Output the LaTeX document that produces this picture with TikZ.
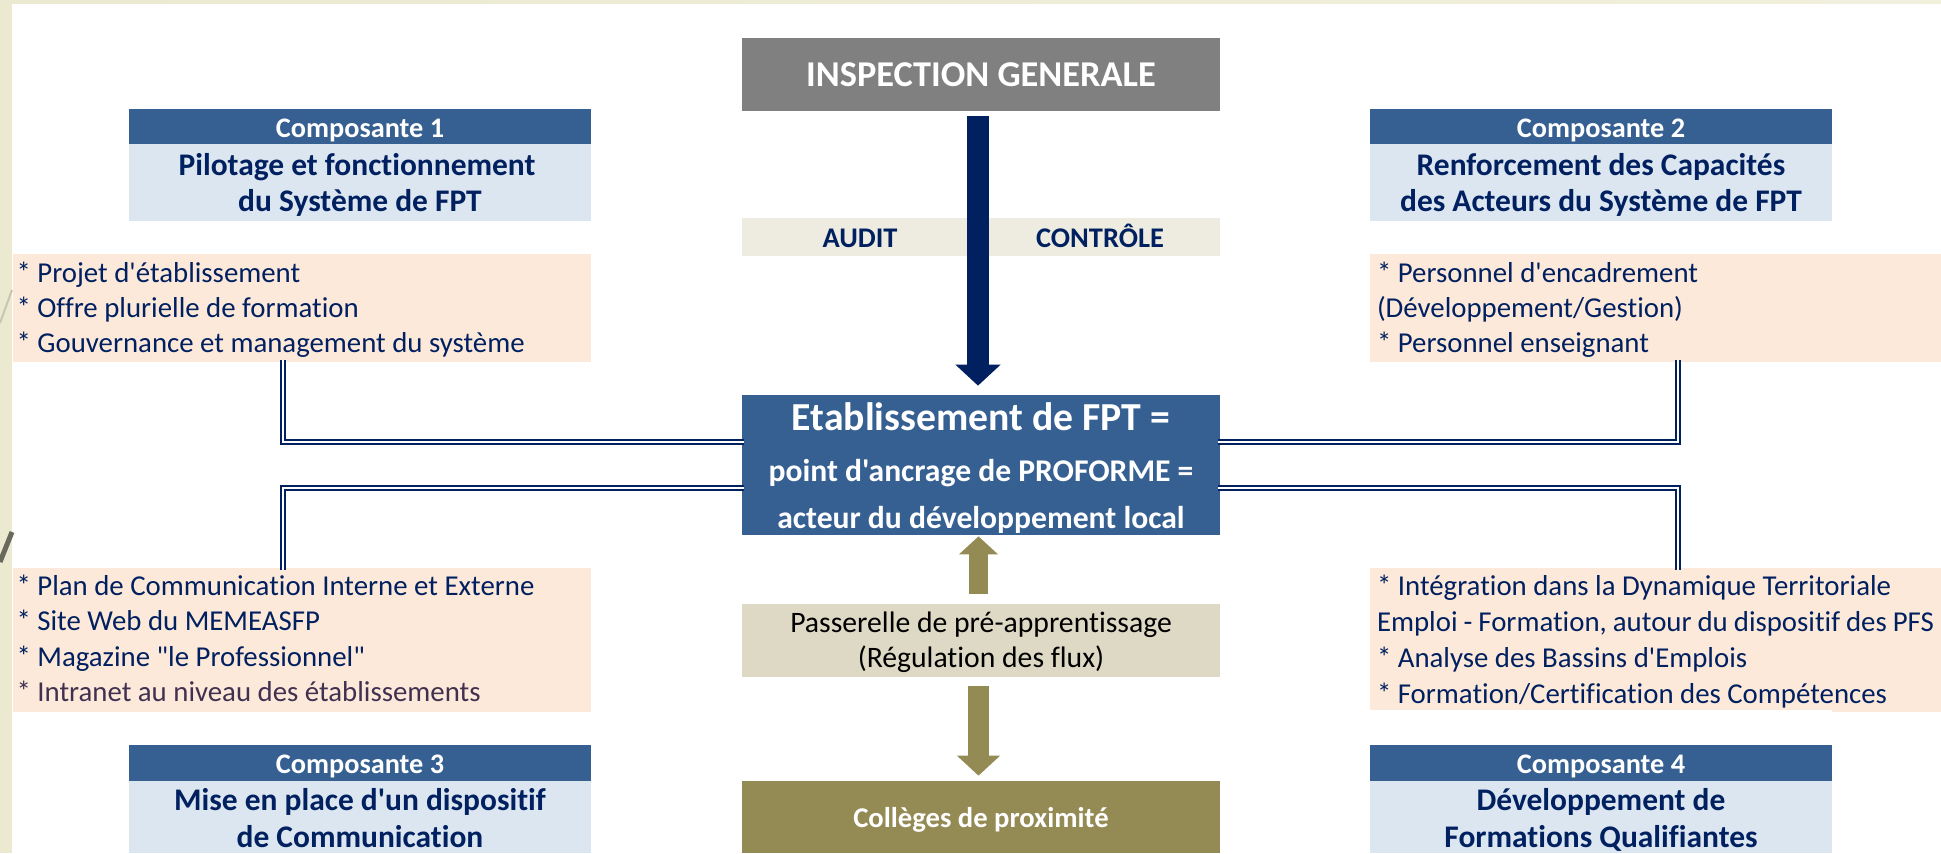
\documentclass[tikz,border=0pt]{standalone}
\usepackage{fontspec}
\setmainfont{Carlito}[Ligatures={TeXOff,CommonOff}]
\usetikzlibrary{arrows.meta}
\definecolor{navy}{HTML}{002060}
\definecolor{headblue}{HTML}{366092}
\definecolor{lightblue}{HTML}{DCE6F1}
\definecolor{peach}{HTML}{FDE9D9}
\definecolor{auditbg}{HTML}{EEECE1}
\definecolor{passbg}{HTML}{DDD9C4}
\definecolor{olive}{HTML}{948A54}
\definecolor{framebg}{HTML}{EBE9CF}
\definecolor{intranet}{HTML}{403151}
\newcommand{\puce}{* }
\tikzset{
	boxsize/.style 2 args={minimum width=#1*0.02cm,minimum height=#2*0.02cm,inner sep=0pt},
	firstbase/.style 2 args={text height=(#1/2+#2)*0.02cm,text depth=(#1/2-#2)*0.02cm},
	comphead/.style={boxsize={462}{35},firstbase={35}{11.3},fill=headblue,text=white,font=\fontsize{16.1}{19}\selectfont\bfseries},
	comptitle/.style={boxsize={462}{77},firstbase={77}{-7.5},fill=lightblue,text=navy,align=flush center,text width=9.24cm,font=\fontsize{17.9}{20.8}\selectfont\bfseries},
	actions/.style 2 args={boxsize={#1}{#2},fill=peach,text=navy,align=flush left,text width=(#1-14)*0.02cm,font=\fontsize{16.4}{20.1}\selectfont},
	bar/.style={boxsize={478}{73},align=flush center,text width=9.56cm},
	link/.style={draw=navy,line width=0.04cm,double=white,double distance=0.04cm,shorten <=-0.04cm,shorten >=-0.04cm},
	navyarrow/.style={draw=navy,line width=0.45cm,-{Triangle[length=0.42cm,width=0.88cm]}},
	olivearrow/.style n args={3}{draw=olive,line width=#1,-{Triangle[length=#2,width=#3]}},
}
\begin{document}
\begin{tikzpicture}[x=0.02cm,y=-0.02cm]
	\useasboundingbox (0,0) rectangle (1941,853);
	% frame behind the slide
	\fill[framebg] (0,0) rectangle (12,853);
	\shade[left color=framebg,middle color=framebg!20,right color=framebg!70] (12,0) rectangle (1941,3);
	\draw[framebg!85!black,line width=0.04cm] (0,323) -- (12,290);
	\draw[black!55!framebg,line width=0.1cm] (0,562) -- (12,532);

	\node[comphead] (headA) at (360, 126.5) {Composante 1};
	\node[comptitle] (titleA) at (360, 182.5) {Pilotage et fonctionnement\kern0.12cm\\du Système de FPT};
	\node[comphead] (headB) at (1601, 126.5) {Composante 2};
	\node[comptitle] (titleB) at (1601, 182.5) {Renforcement des Capacités\\des Acteurs du Système de FPT};
	\node[comphead,minimum height=0.72cm,firstbase={36}{10.8}] (headC) at (360, 763) {Composante 3};
	\node[comptitle,minimum height=1.44cm,firstbase={72}{-6.3}] (titleC) at (360, 817) {Mise en place d'un dispositif\\de Communication};
	\node[comphead,minimum height=0.72cm,firstbase={36}{10.8}] (headD) at (1601, 763) {Composante 4};
	\node[comptitle,minimum height=1.44cm,firstbase={72}{-6.3}] (titleD) at (1601, 817) {Développement de\\Formations Qualifiantes};

	\node[actions={578}{108},text width=11.42cm,firstbase={108}{-26}] (actA) at (302, 308) {\puce Projet d'établissement\\\puce Offre plurielle de formation\\\puce Gouvernance et management du système};
	\node[actions={571}{108},firstbase={108}{-26}] (actB) at (1655.5, 308) {\puce Personnel d'encadrement\\(Développement/Gestion)\\\puce Personnel enseignant};
	\node[actions={578}{144},text width=11.42cm,firstbase={144}{-44.5}] (actC) at (302, 640) {\puce Plan de Communication Interne et Externe\\\puce Site Web du MEMEASFP\\\puce Magazine "le Professionnel"\\\textcolor{intranet}{\puce Intranet au niveau des établissements}};
	\fill[peach] (1832,709) rectangle (1941,712);
	\node[actions={571}{142},firstbase={142}{-43.5},font=\fontsize{16.4}{20.5}\selectfont] (actD) at (1655.5, 639) {\puce Intégration dans la Dynamique Territoriale\\Emploi - Formation, autour du dispositif des PFS\\\puce Analyse des Bassins d'Emplois\\\puce Formation/Certification des Compétences};

	\node[bar,firstbase={73}{11.5},fill=gray,text=white,font=\fontsize{20.7}{24}\selectfont\bfseries] (insp) at (981, 74.5) {INSPECTION GENERALE};
	\node[bar,minimum height=0.76cm,fill=auditbg] (auditbar) at (981, 237) {};
	\node[bar,minimum height=2.8cm,firstbase={140}{-34.5},fill=headblue,text=white,font=\fontsize{18}{26.7}\selectfont\bfseries] (etab) at (981, 465) {{\fontsize{22.6}{26.7}\selectfont Etablissement de FPT =}\\[2.3pt]point d'ancrage de PROFORME =\\acteur du développement local};
	\node[bar,firstbase={73}{-8.5},fill=passbg,text=black,font=\fontsize{16.9}{20.2}\selectfont] (pass) at (981, 640.5) {Passerelle de pré-apprentissage\\(Régulation des flux)};
	\node[bar,minimum height=1.44cm,firstbase={72}{10},fill=olive,text=white,font=\fontsize{16.3}{19}\selectfont\bfseries] (coll) at (981, 817) {Collèges de proximité};

	\draw[navyarrow,shorten <=0.1cm,shorten >=0.18cm] ([xshift=-0.06cm]insp.south) -- ([xshift=-0.06cm]etab.north);
	\node[text=navy,font=\fontsize{16.2}{19}\selectfont\bfseries,anchor=base] (audit) at (860, 247) {AUDIT};
	\node[text=navy,font=\fontsize{16.2}{19}\selectfont\bfseries,anchor=base] (controle) at (1100, 247) {CONTRÔLE};
	\draw[olivearrow={0.39cm}{0.36cm}{0.76cm},shorten <=0.2cm,shorten >=0.02cm] ([xshift=-0.05cm]pass.north) -- ([xshift=-0.05cm]etab.south);
	\draw[olivearrow={0.43cm}{0.4cm}{0.84cm},shorten <=0.18cm,shorten >=0.1cm] ([xshift=-0.05cm]pass.south) -- ([xshift=-0.05cm]coll.north);

	\coordinate (kneeA) at (283, 442);
	\coordinate (kneeB) at (1678, 442);
	\coordinate (kneeC) at (283, 488);
	\coordinate (kneeD) at (1678, 488);
	\draw[link] (actA.south -| kneeA) -- (kneeA) -- (etab.west |- kneeA);
	\draw[link] (actB.south -| kneeB) -- (kneeB) -- (etab.east |- kneeB);
	\draw[link] (actC.north -| kneeC) -- (kneeC) -- (etab.west |- kneeC);
	\draw[link] (actD.north -| kneeD) -- (kneeD) -- (etab.east |- kneeD);
\end{tikzpicture}
\end{document}
